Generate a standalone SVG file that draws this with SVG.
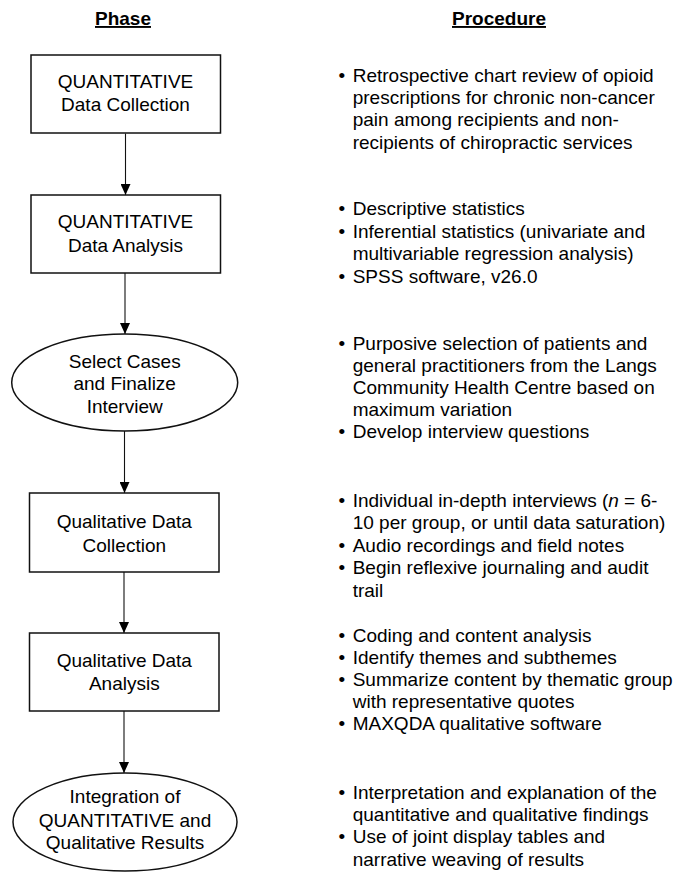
<svg xmlns="http://www.w3.org/2000/svg" width="675" height="872" viewBox="0 0 675 872">
<style>
text{font-family:"Liberation Sans",Arial,sans-serif;font-size:19px;fill:#000}
.hd{font-weight:bold;text-decoration:underline}
.c{text-anchor:middle}
.shape{fill:#fff;stroke:#111;stroke-width:1.5}
.conn{stroke:#111;stroke-width:1.1;fill:none;marker-end:url(#ah)}
</style>
<defs>
<marker id="ah" markerWidth="11" markerHeight="10" refX="11" refY="5" orient="auto" markerUnits="userSpaceOnUse" viewBox="0 0 11 10">
<path d="M0,0 L11,5 L0,10 Z" fill="#000"/>
</marker>
</defs>
<rect width="675" height="872" fill="#fff"/>

<g id="headers">
<text class="hd c" x="123" y="25">Phase</text>
<text class="hd c" x="499" y="25">Procedure</text>
</g>

<g id="connectors">
<line class="conn" x1="125.5" y1="133.5" x2="125.5" y2="195"/>
<line class="conn" x1="125" y1="273" x2="125" y2="334"/>
<line class="conn" x1="124.5" y1="431" x2="124.5" y2="493"/>
<line class="conn" x1="124" y1="572" x2="124" y2="633"/>
<line class="conn" x1="124" y1="711" x2="124" y2="773"/>
</g>

<g id="node1">
<rect class="shape" x="31" y="55" width="189.5" height="78"/>
<text class="c" x="125.5" y="87.5">QUANTITATIVE</text>
<text class="c" x="125.5" y="111">Data Collection</text>
</g>

<g id="node2">
<rect class="shape" x="31" y="195" width="189.5" height="78"/>
<text class="c" x="125.5" y="227.7">QUANTITATIVE</text>
<text class="c" x="125.5" y="251.5">Data Analysis</text>
</g>

<g id="node3">
<ellipse class="shape" cx="124.7" cy="382.5" rx="113" ry="48.5"/>
<text class="c" x="124.7" y="367.7">Select Cases</text>
<text class="c" x="124.7" y="390">and Finalize</text>
<text class="c" x="124.7" y="412.7">Interview</text>
</g>

<g id="node4">
<rect class="shape" x="29.5" y="493" width="189.5" height="79"/>
<text class="c" x="124.3" y="528">Qualitative Data</text>
<text class="c" x="124.3" y="551.7">Collection</text>
</g>

<g id="node5">
<rect class="shape" x="29.5" y="633" width="189.5" height="78"/>
<text class="c" x="124.3" y="666.5">Qualitative Data</text>
<text class="c" x="124.3" y="690">Analysis</text>
</g>

<g id="node6">
<ellipse class="shape" cx="125" cy="822" rx="112" ry="49"/>
<text class="c" x="125" y="803.3">Integration of</text>
<text class="c" x="125" y="826.5">QUANTITATIVE and</text>
<text class="c" x="125" y="849">Qualitative Results</text>
</g>

<g id="proc1">
<text x="338.5" y="81.7">•</text>
<text x="352.7" y="81.7">Retrospective chart review of opioid</text>
<text x="352.7" y="104">prescriptions for chronic non-cancer</text>
<text x="352.7" y="126.3">pain among recipients and non-</text>
<text x="352.7" y="148.6">recipients of chiropractic services</text>
</g>

<g id="proc2">
<text x="338.5" y="215">•</text>
<text x="352.7" y="215">Descriptive statistics</text>
<text x="338.5" y="237.6">•</text>
<text x="352.7" y="237.6">Inferential statistics (univariate and</text>
<text x="352.7" y="260.2">multivariable regression analysis)</text>
<text x="338.5" y="282.8">•</text>
<text x="352.7" y="282.8">SPSS software, v26.0</text>
</g>

<g id="proc3">
<text x="338.5" y="350">•</text>
<text x="352.7" y="350">Purposive selection of patients and</text>
<text x="352.7" y="372">general practitioners from the Langs</text>
<text x="352.7" y="394">Community Health Centre based on</text>
<text x="352.7" y="416">maximum variation</text>
<text x="338.5" y="438.3">•</text>
<text x="352.7" y="438.3">Develop interview questions</text>
</g>

<g id="proc4">
<text x="338.5" y="506.7">•</text>
<text x="352.7" y="506.7">Individual in-depth interviews (<tspan font-style="italic">n</tspan> = 6-</text>
<text x="352.7" y="529.2">10 per group, or until data saturation)</text>
<text x="338.5" y="551.7">•</text>
<text x="352.7" y="551.7">Audio recordings and field notes</text>
<text x="338.5" y="574.2">•</text>
<text x="352.7" y="574.2">Begin reflexive journaling and audit</text>
<text x="352.7" y="596.7">trail</text>
</g>

<g id="proc5">
<text x="338.5" y="641.5">•</text>
<text x="352.7" y="641.5">Coding and content analysis</text>
<text x="338.5" y="663.5">•</text>
<text x="352.7" y="663.5">Identify themes and subthemes</text>
<text x="338.5" y="685.8">•</text>
<text x="352.7" y="685.8">Summarize content by thematic group</text>
<text x="352.7" y="707.8">with representative quotes</text>
<text x="338.5" y="730.2">•</text>
<text x="352.7" y="730.2">MAXQDA qualitative software</text>
</g>

<g id="proc6">
<text x="338.5" y="798.5">•</text>
<text x="352.7" y="798.5">Interpretation and explanation of the</text>
<text x="352.7" y="820.8">quantitative and qualitative findings</text>
<text x="338.5" y="843.2">•</text>
<text x="352.7" y="843.2">Use of joint display tables and</text>
<text x="352.7" y="865.5">narrative weaving of results</text>
</g>
</svg>
